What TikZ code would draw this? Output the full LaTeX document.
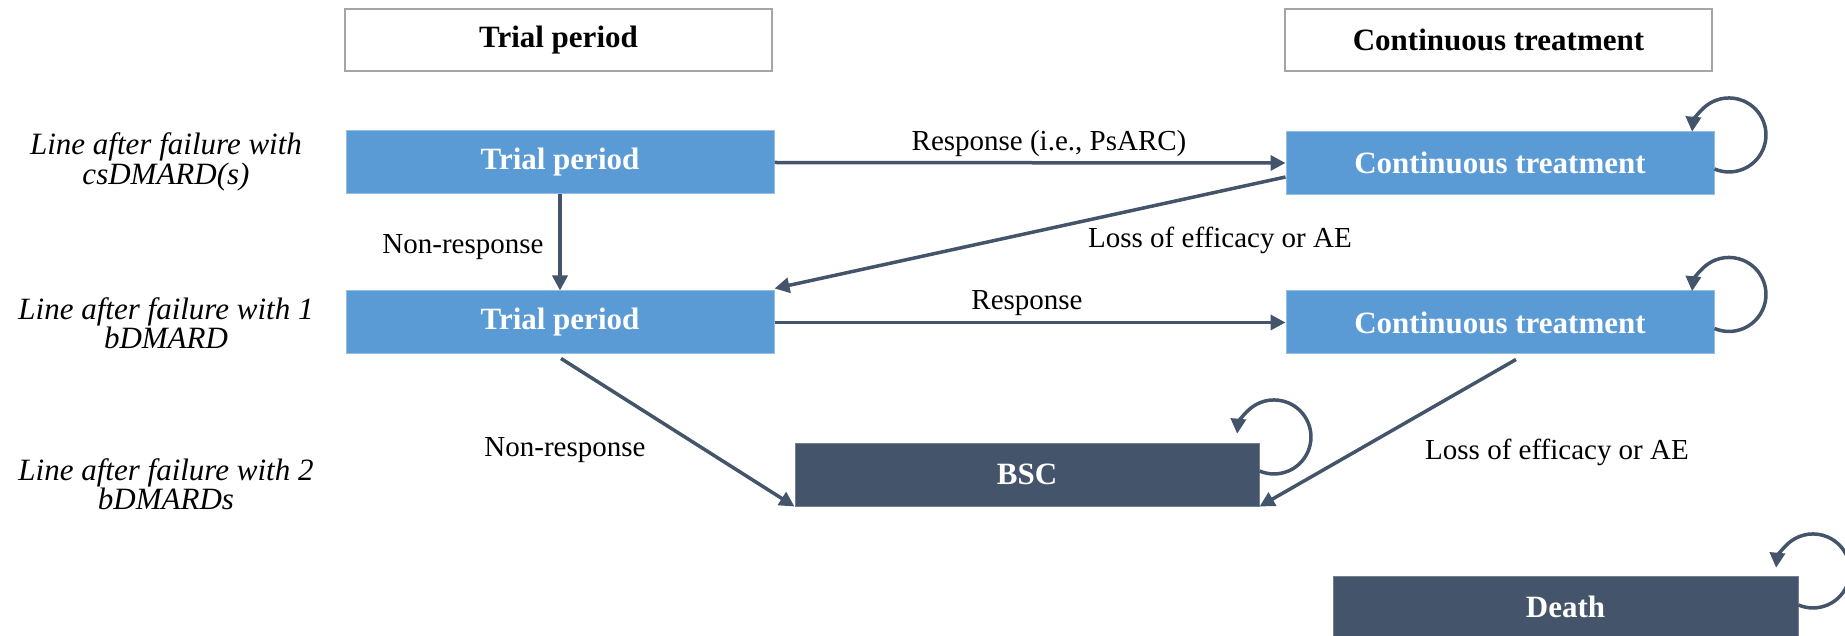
\documentclass[tikz,border=0pt]{standalone}
\usepackage{fontspec}
\setmainfont{Liberation Serif}
\usetikzlibrary{arrows.meta,calc}
\definecolor{lblue}{HTML}{5B9BD5}
\definecolor{dnavy}{HTML}{44546A}
\definecolor{hgray}{HTML}{A5A5A5}
\begin{document}
\begin{tikzpicture}[x=1pt,y=1pt,
  hdr/.style={draw=hgray,line width=2.5pt,fill=white,minimum width=427pt,minimum height=62pt,inner sep=0pt,font=\fontsize{31}{36}\selectfont\bfseries},
  bluebox/.style={fill=lblue,draw=lblue!65!white,line width=1pt,minimum width=428pt,minimum height=63pt,inner sep=0pt,text=white,font=\fontsize{31}{36}\selectfont\bfseries},
  darkbox/.style={fill=dnavy,draw=dnavy!75!white,line width=1pt,minimum width=464pt,minimum height=63pt,inner sep=0pt,text=white,font=\fontsize{31}{36}\selectfont\bfseries},
  rowlab/.style={align=center,inner sep=0pt,font=\fontsize{31}{29.5}\selectfont\itshape},
  elab/.style={inner sep=0pt,font=\fontsize{29}{34}\selectfont},
  arr/.style={draw=dnavy,line width=3.5pt,-{Triangle[length=15pt,width=15pt]}},
  looparr/.style={draw=dnavy,line width=3.5pt,-{Triangle[length=15pt,width=15pt]}},
]
\useasboundingbox (0,0) rectangle (1845,-636);

% headers
\node[hdr] (h1) at (558.5,-40) {Trial period};
\node[hdr] (h2) at (1498.5,-40) {Continuous treatment};

% row labels
\node[rowlab] (r1) at (166,-162) {Line after failure with\\csDMARD(s)};
\node[rowlab] (r2) at (166,-323) {Line after failure with 1\\bDMARD};
\node[rowlab] (r3) at (166,-484) {Line after failure with 2\\bDMARDs};

% states
\node[bluebox] (t1) at (560,-162.5) {Trial period};
\node[bluebox] (c1) at (1500,-163) {Continuous treatment};
\node[bluebox] (t2) at (560,-322.5) {Trial period};
\node[bluebox] (c2) at (1500,-322.5) {Continuous treatment};
\node[darkbox] (bsc) at (1027,-474.5) {BSC};
\node[darkbox,minimum width=465pt,minimum height=62pt] (death) at (1565.5,-607) {Death};

% edge labels
\node[elab] (l1) at (1049,-144) {Response (i.e., PsARC)};
\node[elab] (l2) at (463,-247) {Non-response};
\node[elab] (l3) at (1220,-240) {Loss of efficacy or AE};
\node[elab] (l4) at (1027,-303) {Response};
\node[elab] (l5) at (565,-450) {Non-response};
\node[elab] (l6) at (1557,-452) {Loss of efficacy or AE};

% transitions
\draw[arr] (t1.east) -- (c1.west);
\draw[arr] (t1.south) -- (t2.north);
\draw[arr] ($(c1.west)+(0,-14)$) -- ($(t2.north east)+(0,2)$);
\draw[arr] (t2.east) -- (c2.west);
\draw[arr] ($(t2.south)+(1,-4)$) -- (bsc.south west);
\draw[arr] ($(c2.south)+(16,-5)$) -- (bsc.south east);

% self loops
\draw[looparr] ([yshift=-6]c1.east) arc[start angle=-113,end angle=175,radius=37];
\draw[looparr] ([yshift=-6]c2.east) arc[start angle=-113,end angle=175,radius=37];
\draw[looparr] ([yshift=3.5]bsc.east) arc[start angle=-113,end angle=175,radius=37];
\draw[looparr] ([yshift=2]death.east) arc[start angle=-113,end angle=175,radius=37];
\end{tikzpicture}
\end{document}
